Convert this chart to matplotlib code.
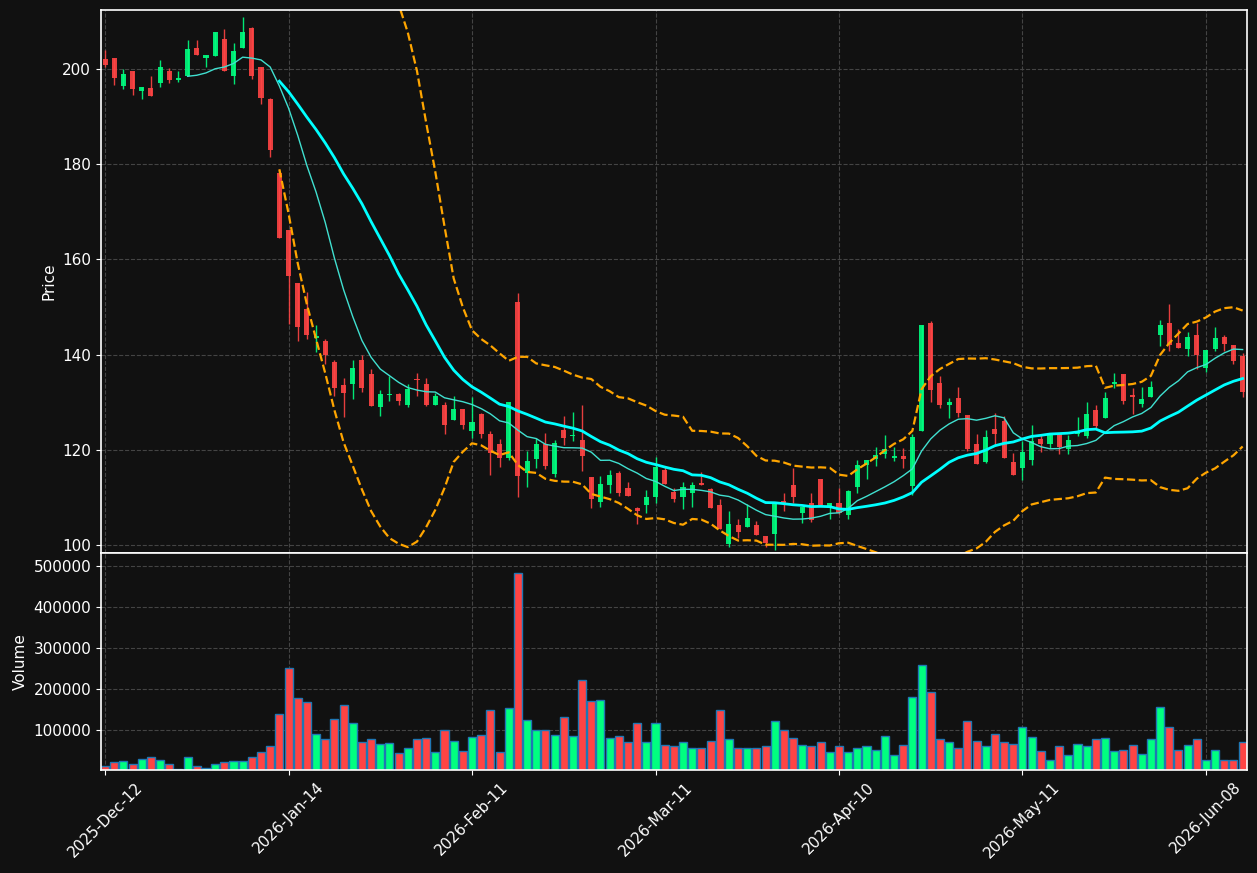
import matplotlib
matplotlib.use("Agg")
import matplotlib.pyplot as plt
import numpy as np
import pandas as pd

# OHLC values (one entry per trading day)
opens = [202.0, 202.2, 196.5, 199.5, 195.4, 196.1, 197.1, 199.5, 197.7, 198.6,
         204.5, 202.4, 202.8, 206.2, 198.6, 204.5, 208.7, 200.5, 193.6, 178.2,
         166.1, 155.1, 149.6, 143.5, 142.9, 138.5, 133.5, 133.9, 138.9, 136.0,
         128.9, 131.5, 131.8, 129.3, 134.8, 133.7, 129.4, 129.3, 126.3, 128.6,
         124.0, 127.4, 123.4, 121.2, 118.2, 151.1, 115.0, 118.0, 121.2, 114.8,
         124.2, 122.8, 122.1, 114.3, 109.1, 112.6, 115.2, 112.0, 107.7, 108.3,
         110.0, 115.8, 111.1, 110.1, 110.8, 113.0, 111.7, 108.3, 100.1, 104.2,
         103.7, 104.2, 101.9, 102.2, 109.3, 112.5, 106.8, 108.8, 113.9, 107.9,
         108.8, 106.2, 112.1, 116.7, 118.1, 119.0, 118.2, 118.7, 112.3, 124.0,
         146.6, 134.0, 129.3, 130.8, 127.2, 121.2, 117.5, 124.4, 126.1, 117.5,
         116.2, 117.8, 122.3, 121.2, 123.2, 120.1, 123.2, 122.9, 128.4, 126.7,
         133.8, 135.8, 131.5, 129.6, 131.1, 144.0, 146.7, 142.4, 141.1, 144.0,
         137.2, 141.1, 143.7, 142.1, 139.7]
highs = [203.9, 202.2, 200.0, 199.5, 196.3, 198.6, 201.8, 200.2, 199.6, 206.0,
         206.0, 203.0, 207.7, 208.3, 205.5, 211.0, 208.9, 200.5, 193.8, 179.0,
         166.1, 155.1, 153.1, 146.2, 143.3, 138.9, 135.0, 138.9, 139.9, 136.9,
         132.5, 135.5, 131.9, 133.7, 136.2, 135.0, 131.9, 130.0, 131.3, 128.6,
         131.1, 127.8, 124.0, 122.3, 130.0, 152.9, 119.7, 122.5, 123.5, 122.1,
         127.1, 128.0, 129.3, 114.3, 114.5, 115.8, 115.6, 113.2, 107.9, 111.5,
         118.4, 116.3, 111.9, 113.2, 113.2, 115.3, 111.9, 109.7, 107.2, 105.4,
         108.6, 105.1, 101.9, 108.8, 111.0, 116.1, 108.0, 111.0, 113.9, 108.8,
         111.9, 111.6, 117.8, 117.8, 120.6, 123.1, 120.6, 120.3, 123.4, 146.1,
         147.1, 135.5, 130.9, 133.2, 127.2, 123.2, 124.1, 127.8, 127.1, 119.3,
         121.9, 125.1, 123.0, 123.5, 123.2, 123.0, 126.9, 130.0, 129.4, 132.2,
         136.1, 135.8, 133.0, 133.2, 134.4, 147.3, 150.7, 145.4, 144.8, 146.6,
         140.9, 145.7, 144.0, 142.1, 140.3]
lows = [200.4, 196.6, 195.8, 194.5, 193.7, 194.4, 196.2, 197.0, 197.2, 198.6,
        203.0, 200.4, 202.8, 199.5, 196.8, 204.5, 197.9, 192.6, 181.5, 164.4,
        146.5, 142.8, 143.3, 140.5, 138.1, 131.3, 126.8, 130.6, 132.2, 129.1,
        127.1, 130.2, 129.4, 128.9, 131.3, 129.1, 129.4, 123.2, 126.3, 124.3,
        122.5, 122.5, 114.7, 116.4, 117.8, 110.0, 112.2, 116.2, 116.0, 114.3,
        121.0, 121.9, 115.6, 107.7, 107.9, 110.8, 110.3, 110.2, 104.4, 106.8,
        108.9, 112.8, 109.0, 107.5, 107.9, 112.6, 107.7, 103.3, 99.6, 101.4,
        103.7, 102.0, 99.6, 99.0, 107.2, 108.8, 104.6, 104.8, 108.3, 105.5,
        106.4, 105.4, 110.8, 113.8, 116.5, 118.2, 117.7, 116.1, 110.5, 124.0,
        130.0, 128.7, 126.7, 126.9, 119.7, 116.9, 117.1, 120.9, 118.2, 114.7,
        113.6, 116.7, 119.5, 120.3, 119.1, 119.0, 122.8, 122.5, 124.5, 126.7,
        133.0, 129.6, 127.4, 128.9, 131.1, 141.7, 140.7, 141.3, 139.7, 137.0,
        136.3, 140.7, 140.7, 138.1, 131.0]
closes = [200.8, 198.1, 199.0, 195.8, 196.3, 194.4, 200.5, 197.6, 197.8, 204.3,
          203.0, 203.0, 207.7, 199.5, 203.7, 207.7, 198.5, 193.8, 182.9, 164.4,
          156.6, 145.7, 144.2, 143.8, 139.8, 132.9, 132.0, 137.2, 132.9, 129.1,
          131.8, 131.8, 130.2, 132.8, 134.6, 129.4, 131.3, 125.2, 128.6, 125.1,
          125.9, 123.2, 119.2, 118.2, 130.0, 114.4, 117.6, 121.2, 116.5, 121.5,
          122.4, 123.0, 118.6, 109.6, 112.8, 114.7, 110.8, 110.2, 107.2, 110.1,
          116.4, 112.8, 109.6, 112.2, 112.6, 112.6, 107.7, 103.3, 104.4, 102.7,
          105.7, 102.0, 100.4, 108.8, 108.9, 110.1, 108.0, 105.2, 108.3, 108.8,
          106.8, 111.3, 116.7, 117.8, 118.9, 120.1, 118.7, 118.0, 122.6, 146.1,
          132.5, 129.4, 130.0, 127.7, 120.1, 116.9, 122.6, 123.4, 118.2, 114.7,
          119.5, 121.9, 121.2, 123.4, 120.6, 122.1, 123.7, 127.6, 124.9, 130.9,
          134.3, 130.2, 131.1, 130.7, 133.2, 146.1, 142.0, 141.3, 143.7, 139.8,
          140.9, 143.4, 142.3, 138.7, 132.2]
# volume in thousands
volumes_k = [12, 22, 24, 17, 29, 32, 27, 15, 5, 34,
             12, 7, 17, 22, 24, 24, 32, 46, 61, 139,
             251, 178, 168, 90, 78, 127, 161, 115, 71, 78,
             66, 68, 44, 56, 76, 80, 46, 98, 73, 49,
             83, 88, 149, 46, 154, 483, 124, 98, 100, 88,
             132, 85, 222, 171, 173, 80, 85, 71, 115, 71,
             115, 63, 59, 71, 56, 56, 73, 149, 78, 56,
             54, 56, 61, 120, 98, 80, 63, 59, 71, 46,
             59, 46, 56, 61, 51, 85, 39, 63, 180, 259,
             193, 76, 71, 56, 122, 73, 61, 90, 71, 66,
             107, 83, 49, 27, 59, 39, 66, 59, 76, 80,
             49, 51, 63, 41, 76, 156, 107, 51, 63, 78,
             27, 51, 27, 27, 71]
tick_labels = ['2025-Dec-12', '2026-Jan-14', '2026-Feb-11', '2026-Mar-11',
               '2026-Apr-10', '2026-May-11', '2026-Jun-08']

df = pd.DataFrame({'Open': opens, 'High': highs, 'Low': lows,
                   'Close': closes, 'Volume': np.array(volumes_k) * 1000})
x = np.arange(len(df))
up = df['Close'] >= df['Open']

ma10 = df['Close'].rolling(10).mean()
ma20 = df['Close'].rolling(20).mean()
sd20 = df['Close'].rolling(20).std(ddof=0)
bb_up = ma20 + 2 * sd20
bb_lo = ma20 - 2 * sd20

bg = '#111111'
up_col = '#00ff80'
dn_col = '#ff4444'
colors = np.where(up, up_col, dn_col)

fig = plt.figure(figsize=(12.57, 8.73), dpi=100, facecolor=bg)
ax = fig.add_axes([0.0803, 0.3666, 0.9117, 0.622])
axv = fig.add_axes([0.0803, 0.118, 0.9117, 0.2486], sharex=ax)

for a in (ax, axv):
    a.set_facecolor(bg)
    a.grid(True, linestyle='--', color='#444444', linewidth=0.8)
    a.set_axisbelow(True)
    for s in a.spines.values():
        s.set_color('white')
        s.set_linewidth(1.2)
    a.tick_params(colors='white', labelsize=11)

# candles
ax.vlines(x, df['Low'], df['High'], colors=colors, linewidth=1, alpha=0.9)
body_bottom = np.minimum(df['Open'], df['Close'])
body_h = np.maximum((df['Close'] - df['Open']).abs(), 0.3)
ax.bar(x, body_h, bottom=body_bottom, width=0.55, color=colors, alpha=0.9)

ax.plot(x, ma10, color='#40e0d0', linewidth=1)
ax.plot(x, ma20, color='#00ffff', linewidth=2)
ax.plot(x, bb_up, color='orange', linestyle='--', linewidth=1.6)
ax.plot(x, bb_lo, color='orange', linestyle='--', linewidth=1.6)

ax.set_ylim(98.3, 212.4)
ax.set_yticks([100, 120, 140, 160, 180, 200])
ax.set_ylabel('Price', color='white', fontsize=11)
ax.tick_params(axis='x', labelbottom=False)

# volume
axv.bar(x, df['Volume'], width=0.88, color=colors, edgecolor='#1f77b4', linewidth=1)
axv.set_ylim(0.3 * df['Volume'].min(), 1.1 * df['Volume'].max())
axv.set_yticks([100000, 200000, 300000, 400000, 500000])
axv.set_ylabel('Volume', color='white', fontsize=11)
axv.set_xticks(np.arange(0, 121, 20))
axv.set_xticklabels(tick_labels, rotation=45, ha='center')
axv.set_xlim(-0.45, 124.47)

fig.savefig('out.png', dpi=100, facecolor=bg)
